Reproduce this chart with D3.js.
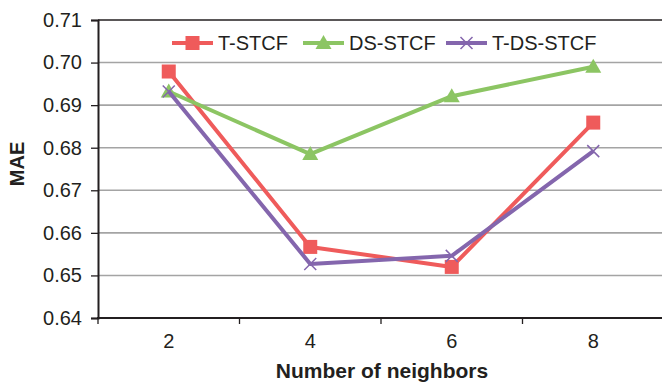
<!DOCTYPE html>
<html><head><meta charset="utf-8">
<script src="https://cdn.jsdelivr.net/npm/d3@7"></script>
<style>body{margin:0;background:#fff}svg{display:block}text{font-family:"Liberation Sans",Arial,sans-serif;fill:#231f20}</style>
</head><body><svg id="c" width="662" height="382"></svg>
<script>
const categories = ["2","4","6","8"];
const yTicks = [0.64,0.65,0.66,0.67,0.68,0.69,0.70,0.71];
const seriesNames = ["T-STCF","DS-STCF","T-DS-STCF"];
const tstcf = [0.6979,0.6567,0.6520,0.6859];
const dsstcf = [0.6932,0.6785,0.6921,0.6990];
const tdsstcf = [0.6932,0.6527,0.6546,0.6792];
const colors = ["#ef5b5b","#8cc563","#8466ad"];
const markers = ["square","triangle","cross"];
const seriesVals = [tstcf, dsstcf, tdsstcf];

const svg = d3.select("#c");
const L = 98, R = 664, T = 20, B = 318, RE = 662;
const x = d3.scaleBand().domain(categories).range([L,R]);
const y = d3.scaleLinear().domain([0.64,0.71]).range([B,T]);

// gridlines
svg.append("g").selectAll("line").data(yTicks.slice(1,-1)).join("line")
  .attr("x1",L).attr("x2",RE).attr("y1",d=>y(d)).attr("y2",d=>y(d))
  .attr("stroke","#a4a4a4").attr("stroke-width",1.6);
svg.append("line").attr("x1",L).attr("x2",RE).attr("y1",y(0.71)).attr("y2",y(0.71)).attr("stroke","#231f20").attr("stroke-width",1.6);

// y axis
const ya = svg.append("g").attr("transform",`translate(${L},0)`)
  .call(d3.axisLeft(y).tickValues(yTicks).tickFormat(d3.format(".2f")).tickSize(7).tickPadding(9));
ya.select(".domain").attr("stroke","#231f20").attr("stroke-width",2);
ya.selectAll(".tick line").attr("stroke","#231f20").attr("stroke-width",1.3);
ya.selectAll("text").attr("font-size",20).attr("fill","#231f20").style("font-family","Liberation Sans, Arial");

// x axis
const xa = svg.append("g").attr("transform",`translate(0,${B})`)
  .call(d3.axisBottom(x).tickSize(0).tickPadding(16));
xa.select(".domain").remove();
xa.selectAll("text").attr("font-size",20).attr("fill","#231f20").style("font-family","Liberation Sans, Arial");
svg.append("line").attr("x1",L-1).attr("x2",RE).attr("y1",B).attr("y2",B).attr("stroke","#231f20").attr("stroke-width",2);
svg.append("g").selectAll("line").data(categories).join("line")
  .attr("x1",d=>x(d)).attr("x2",d=>x(d)).attr("y1",B).attr("y2",B+6)
  .attr("stroke","#231f20").attr("stroke-width",1.3);

// axis titles
svg.append("text").attr("transform",`translate(24,${(T+B)/2-5}) rotate(-90)`).attr("text-anchor","middle")
  .attr("font-size",20).attr("font-weight","bold").text("MAE");
svg.append("text").attr("x",382).attr("y",377.5).attr("text-anchor","middle")
  .attr("font-size",21).attr("font-weight","bold").text("Number of neighbors");

function drawMarker(g, type, color, cx, cy){
  if(type==="square") g.append("rect").attr("x",cx-7).attr("y",cy-7).attr("width",14).attr("height",14).attr("fill",color);
  else if(type==="triangle") g.append("path").attr("d",`M${cx},${cy-8}L${cx+8},${cy+6}L${cx-8},${cy+6}Z`).attr("fill",color);
  else g.append("path").attr("d",`M${cx-6},${cy-6}L${cx+6},${cy+6}M${cx-6},${cy+6}L${cx+6},${cy-6}`).attr("stroke",color).attr("stroke-width",1.5);
}

const line = d3.line().x((d,i)=>x(categories[i])+x.bandwidth()/2).y(d=>y(d));
seriesVals.forEach((vals,k)=>{
  const g = svg.append("g");
  g.append("path").attr("d",line(vals)).attr("fill","none").attr("stroke",colors[k]).attr("stroke-width",4).attr("stroke-linejoin","round");
  vals.forEach((v,i)=>drawMarker(g, markers[k], colors[k], x(categories[i])+x.bandwidth()/2, y(v)));
});

// legend
const legX = [172, 303, 446];
const lg = svg.append("g");
seriesNames.forEach((n,k)=>{
  const lx = legX[k], ly = 43;
  lg.append("line").attr("x1",lx).attr("x2",lx+41).attr("y1",ly).attr("y2",ly).attr("stroke",colors[k]).attr("stroke-width",4);
  drawMarker(lg, markers[k], colors[k], lx+20.5, ly);
  lg.append("text").attr("x",lx+46).attr("y",ly+7).attr("font-size",20).text(n);
});
</script></body></html>
